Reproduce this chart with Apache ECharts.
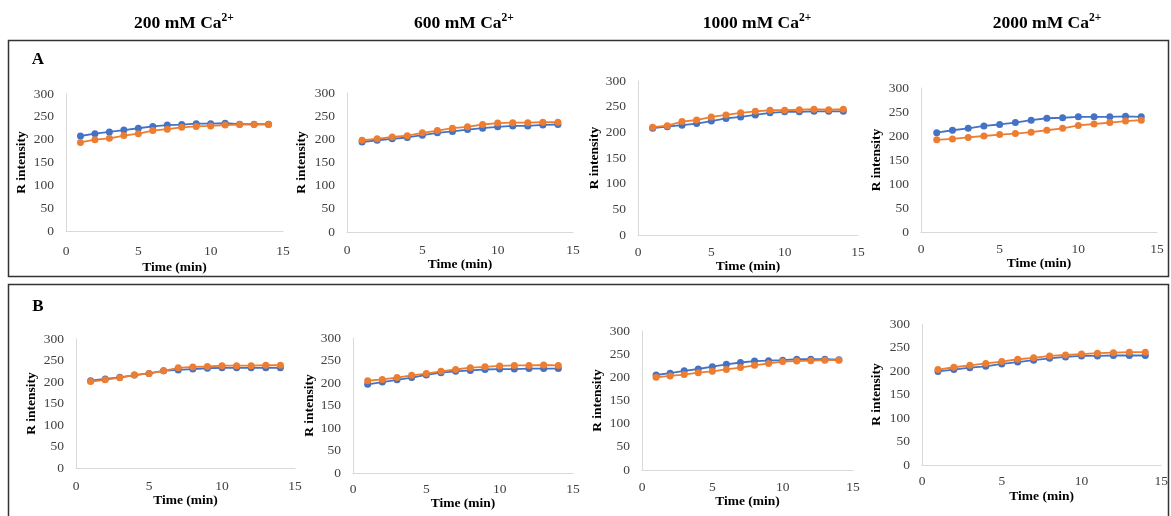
<!DOCTYPE html>
<html><head><meta charset="utf-8">
<script src="https://cdn.jsdelivr.net/npm/echarts@6/dist/echarts.min.js"></script>
<style>html,body{margin:0;padding:0;background:#fff}#c{width:1171px;height:516px}</style>
</head><body><div id="c"></div>
<script>
const time = [1,2,3,4,5,6,7,8,9,10,11,12,13,14];
const headers = ['200 mM Ca', '600 mM Ca', '1000 mM Ca', '2000 mM Ca'];
const yTicks = [0, 300, 50];
const xTicks = [0, 15, 5];
// Row A
const A1_blue = [208,213,217,221,225,229,232,233,235,235,236,234,234,234];
const A1_orange = [194,200,203,209,213,220,223,227,229,230,232,233,233,233];
const A2_blue = [194,198,201,204,209,214,217,221,224,227,229,229,231,232];
const A2_orange = [198,201,205,208,214,219,224,227,232,235,236,236,237,237];
const A3_blue = [208,211,214,217,222,227,230,234,238,240,240,241,241,241];
const A3_orange = [210,213,221,224,230,234,238,241,243,243,244,245,244,245];
const A4_blue = [207,212,216,221,224,228,233,237,238,240,240,240,241,240];
const A4_orange = [192,194,197,200,203,205,208,212,216,222,225,228,231,233];
// Row B
const B1_blue = [203,207,211,216,220,226,228,230,232,233,233,233,233,233];
const B1_orange = [201,205,210,216,220,226,233,235,236,238,238,238,239,239];
const B2_blue = [197,202,207,212,218,223,226,228,230,231,231,232,232,232];
const B2_orange = [205,208,212,217,221,226,230,234,236,238,239,239,240,239];
const B3_blue = [205,209,214,218,223,228,232,235,236,237,239,239,239,238];
const B3_orange = [200,203,206,210,213,217,221,226,230,234,235,236,237,237];
const B4_blue = [199,203,207,210,215,219,223,227,230,232,232,233,233,233];
const B4_orange = [203,208,212,216,220,225,228,232,234,236,238,239,240,240];

const panels = [
  {b:A1_blue,o:A1_orange,l:66,t:94,w:217,h:137,yg:37,xg:30,xm:13},
  {b:A2_blue,o:A2_orange,l:347,t:93,w:226,h:139,yg:38,xg:25,xm:11},
  {b:A3_blue,o:A3_orange,l:638,t:81,w:220,h:154,yg:36,xg:22,xm:10},
  {b:A4_blue,o:A4_orange,l:921,t:88,w:236,h:144,yg:37,xg:18,xm:10},
  {b:B1_blue,o:B1_orange,l:76,t:339,w:219,h:129,yg:37,xg:23,xm:11},
  {b:B2_blue,o:B2_orange,l:353,t:338,w:220,h:135,yg:34,xg:20,xm:9},
  {b:B3_blue,o:B3_orange,l:642,t:331,w:211,h:139,yg:37,xg:21,xm:10},
  {b:B4_blue,o:B4_orange,l:922,t:324,w:240,h:141,yg:38,xg:25,xm:9}
];
const FONT = '"Liberation Serif","Times New Roman",serif';
const BLUE = '#4472C4', ORANGE = '#ED7D31';
const grid = [], xAxis = [], yAxis = [], series = [];
panels.forEach((p, i) => {
  grid.push({left:p.l, top:p.t, width:p.w, height:p.h, containLabel:false});
  xAxis.push({type:'value', gridIndex:i, min:xTicks[0], max:xTicks[1], interval:xTicks[2],
    name:'Time (min)', nameLocation:'middle', nameGap:p.xg,
    nameTextStyle:{fontFamily:FONT, fontWeight:'bold', fontSize:13.5, color:'#000'},
    axisLine:{show:true, lineStyle:{color:'#D9D9D9', width:1}}, axisTick:{show:false},
    splitLine:{show:false},
    axisLabel:{fontFamily:FONT, fontSize:13.5, color:'#404040', margin:p.xm}});
  yAxis.push({type:'value', gridIndex:i, min:yTicks[0], max:yTicks[1], interval:yTicks[2],
    name:'R intensity', nameLocation:'middle', nameGap:p.yg, nameRotate:90,
    nameTextStyle:{fontFamily:FONT, fontWeight:'bold', fontSize:13.5, color:'#000'},
    axisLine:{show:true, lineStyle:{color:'#D9D9D9', width:1}}, axisTick:{show:false},
    splitLine:{show:false},
    axisLabel:{fontFamily:FONT, fontSize:13.5, color:'#404040', margin:12}});
  [[p.b, BLUE],[p.o, ORANGE]].forEach(([vals, col]) => {
    series.push({type:'line', xAxisIndex:i, yAxisIndex:i,
      data: time.map((t, k) => [t, vals[k]]),
      symbol:'circle', symbolSize:7, showSymbol:true,
      lineStyle:{color:col, width:1.8}, itemStyle:{color:col}, animation:false});
  });
});
const headerX = [184, 464, 757, 1047];
const graphic = [
  {type:'rect', shape:{x:8.5, y:40.5, width:1160, height:236}, style:{fill:'none', stroke:'#333', lineWidth:1.5}},
  {type:'rect', shape:{x:8.5, y:284.5, width:1160, height:240}, style:{fill:'none', stroke:'#333', lineWidth:1.5}},
  {type:'text', x:38, y:60, style:{text:'A', font:'bold 17px '+FONT, fill:'#000', align:'center', verticalAlign:'middle'}},
  {type:'text', x:38, y:307, style:{text:'B', font:'bold 17px '+FONT, fill:'#000', align:'center', verticalAlign:'middle'}}
];
headers.forEach((h, i) => {
  graphic.push({type:'text', x:headerX[i], y:22, style:{
    text:'{a|'+h+'}{s|2+}', align:'center', verticalAlign:'middle',
    rich:{a:{fontFamily:FONT, fontWeight:'bold', fontSize:17.5, color:'#000', lineHeight:20, verticalAlign:'bottom'},
          s:{fontFamily:FONT, fontWeight:'bold', fontSize:11.5, color:'#000', lineHeight:20, verticalAlign:'top'}}}});
});
const chart = echarts.init(document.getElementById('c'), null, {renderer:'canvas'});
chart.setOption({animation:false, backgroundColor:'#fff', grid, xAxis, yAxis, series, graphic});
</script></body></html>
